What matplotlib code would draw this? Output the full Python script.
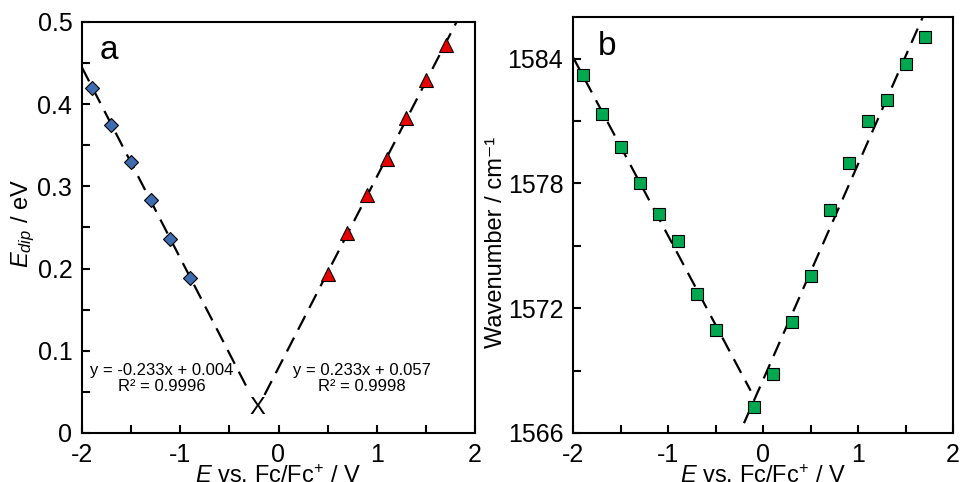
import numpy as np
import matplotlib.pyplot as plt
from matplotlib.ticker import MultipleLocator

plt.rcParams['font.family'] = ['Liberation Sans', 'DejaVu Sans']
plt.rcParams['mathtext.fontset'] = 'custom'
plt.rcParams['mathtext.rm'] = 'Liberation Sans'
plt.rcParams['mathtext.it'] = 'Liberation Sans:italic'
plt.rcParams['axes.unicode_minus'] = False

# panel a: dipole energy vs potential
x_neg = [-1.9, -1.7, -1.5, -1.3, -1.1, -0.9]
e_neg = [0.420, 0.375, 0.330, 0.284, 0.236, 0.188]
x_pos = [0.5, 0.7, 0.9, 1.1, 1.3, 1.5, 1.7]
e_pos = [0.194, 0.243, 0.289, 0.333, 0.383, 0.429, 0.472]
fit_text_neg = 'y = -0.233x + 0.004\nR² = 0.9996'
fit_text_pos = 'y = 0.233x + 0.057\nR² = 0.9998'

# panel b: wavenumber vs potential
xb_neg = [-1.9, -1.7, -1.5, -1.3, -1.1, -0.9, -0.7, -0.5]
wn_neg = [1583.20, 1581.33, 1579.73, 1578.04, 1576.54, 1575.23, 1572.66, 1570.95]
xb_pos = [-0.1, 0.1, 0.3, 0.5, 0.7, 0.9, 1.1, 1.3, 1.5, 1.7]
wn_pos = [1567.27, 1568.84, 1571.32, 1573.54, 1576.70, 1579.00, 1581.01,
          1582.02, 1583.73, 1585.04]

DASH = (7, 4)
FS = 18


def style_axes(ax):
    for s in ax.spines.values():
        s.set_linewidth(1.5)
    ax.tick_params(which='both', direction='in', top=False, right=False,
                   width=1.5, labelsize=FS)
    ax.tick_params(which='major', length=6, pad=7)
    ax.tick_params(which='minor', length=6)
    ax.xaxis.set_major_locator(MultipleLocator(1))
    ax.xaxis.set_minor_locator(MultipleLocator(0.5))
    ax.set_xlim(-2, 2)
    ax.set_xlabel('$E$ vs. Fc/Fc$^{+}$ / V', fontsize=17)
    ax.xaxis.set_label_coords(0.5, -0.077)


fig = plt.figure(figsize=(9.6, 4.82), dpi=100)
ax1 = fig.add_axes([82 / 960, 1 - 433 / 482, 393 / 960, 411 / 482])
ax2 = fig.add_axes([573 / 960, 1 - 433 / 482, 380 / 960, 416 / 482])

# ---- panel a
k1, b1 = np.polyfit(x_neg, e_neg, 1)
k2, b2 = np.polyfit(x_pos, e_pos, 1)
xc = (b2 - b1) / (k1 - k2)
yc = k1 * xc + b1
xl = np.array([-2.0, xc - 0.08])
xr = np.array([xc + 0.07, 1.9])
ax1.plot(xl, k1 * xl + b1, color='k', lw=1.6, dashes=DASH)
ax1.plot(xr, k2 * xr + b2, color='k', lw=1.6, dashes=DASH)
ax1.plot(x_neg, e_neg, 'D', ms=6.8, mfc='#3d6db0', mec='k', mew=0.8)
ax1.plot(x_pos, e_pos, '^', ms=9.8, mfc='#e60000', mec='k', mew=0.8)
ax1.text(xc, yc, 'X', fontsize=17, ha='center', va='center')
ax1.set_ylim(0, 0.5)
ax1.yaxis.set_major_locator(MultipleLocator(0.1))
ax1.yaxis.set_minor_locator(MultipleLocator(0.05))
ax1.yaxis.set_major_formatter(lambda v, p: '0' if abs(v) < 1e-9 else f'{v:.1f}')
style_axes(ax1)
ax1.set_ylabel('$E_{dip}$ / eV', fontsize=17)
ax1.yaxis.set_label_coords(-0.115, 0.51)
ax1.text(0.045, 0.93, 'a', transform=ax1.transAxes, fontsize=24, va='center')
ax1.text(-1.19, 0.066, fit_text_neg, fontsize=12, ha='center', va='center',
         linespacing=1.05)
ax1.text(0.845, 0.066, fit_text_pos, fontsize=12, ha='center', va='center',
         linespacing=1.05)

# ---- panel b
p1 = np.polyfit(xb_neg, wn_neg, 1)
p2 = np.polyfit(xb_pos, wn_pos, 1)
xl = np.array([-2.0, -0.13])
xr = np.array([-0.2, 1.9])
ax2.plot(xl, np.polyval(p1, xl), color='k', lw=1.6, dashes=DASH)
ax2.plot(xr, np.polyval(p2, xr), color='k', lw=1.6, dashes=DASH)
ax2.plot(xb_neg + xb_pos, wn_neg + wn_pos, 's', ms=9.3, mfc='#00a84f',
         mec='k', mew=0.8)
ax2.set_ylim(1566, 1586)
ax2.yaxis.set_major_locator(MultipleLocator(6))
ax2.yaxis.set_minor_locator(MultipleLocator(3))
style_axes(ax2)
ax2.set_ylabel('Wavenumber / cm⁻¹', fontsize=17)
ax2.yaxis.set_label_coords(-0.174, 0.457)
ax2.text(0.065, 0.93, 'b', transform=ax2.transAxes, fontsize=24, va='center')

fig.savefig('out.png', dpi=100)
